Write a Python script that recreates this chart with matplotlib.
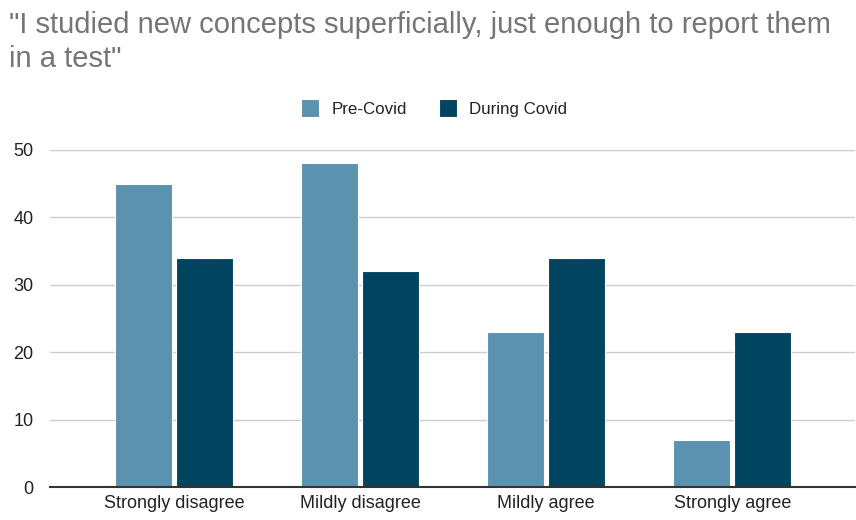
import matplotlib.pyplot as plt
import numpy as np

categories = ["Strongly disagree", "Mildly disagree", "Mildly agree", "Strongly agree"]
pre_covid = [45, 48, 23, 7]
during_covid = [34, 32, 34, 23]
series_names = ["Pre-Covid", "During Covid"]
y_ticks = [0, 10, 20, 30, 40, 50]

plt.rcParams['font.family'] = ['Liberation Sans', 'DejaVu Sans']

fig = plt.figure(figsize=(8.56, 5.2), dpi=100)
ax = fig.add_axes([50 / 856, 1 - 487 / 520, 805 / 856, (487 - 150) / 520])

x = np.arange(len(categories))
w = 0.306
off = 0.163
c_pre = "#5b92b0"
c_dur = "#01445f"
b1 = ax.bar(x - off, pre_covid, w, color=c_pre, edgecolor="white", linewidth=0.8,
            label=series_names[0], zorder=3)
b2 = ax.bar(x + off, during_covid, w, color=c_dur, edgecolor="white", linewidth=0.8,
            label=series_names[1], zorder=3)

ax.set_xlim(-0.667, 3.66)
ax.set_ylim(0, 50)
ax.set_yticks(y_ticks)
ax.set_xticks(x)
ax.set_xticklabels(categories)
ax.tick_params(axis='both', length=0, labelsize=13, colors="#222222")
ax.tick_params(axis='y', pad=12)
ax.tick_params(axis='x', pad=6)
ax.grid(axis='y', color="#cccccc", linewidth=1, zorder=0)
for s in ["top", "right", "left"]:
    ax.spines[s].set_visible(False)
ax.spines["bottom"].set_color("#333333")
ax.spines["bottom"].set_linewidth(1.5)
ax.spines["bottom"].set_zorder(4)

fig.text(9 / 856, 1 - 11 / 520,
         "\"I studied new concepts superficially, just enough to report them\nin a test\"",
         ha="left", va="top", fontsize=21, color="#757575", linespacing=1.27)

fig.legend(handles=[b1, b2], labels=series_names, loc="center",
           bbox_to_anchor=(434 / 856, 1 - 108 / 520), ncol=2, frameon=False,
           fontsize=12.2, handlelength=1.05, handleheight=1.3, handletextpad=0.75,
           columnspacing=1.9, labelcolor="#222222")

fig.savefig("out.png", dpi=100)
